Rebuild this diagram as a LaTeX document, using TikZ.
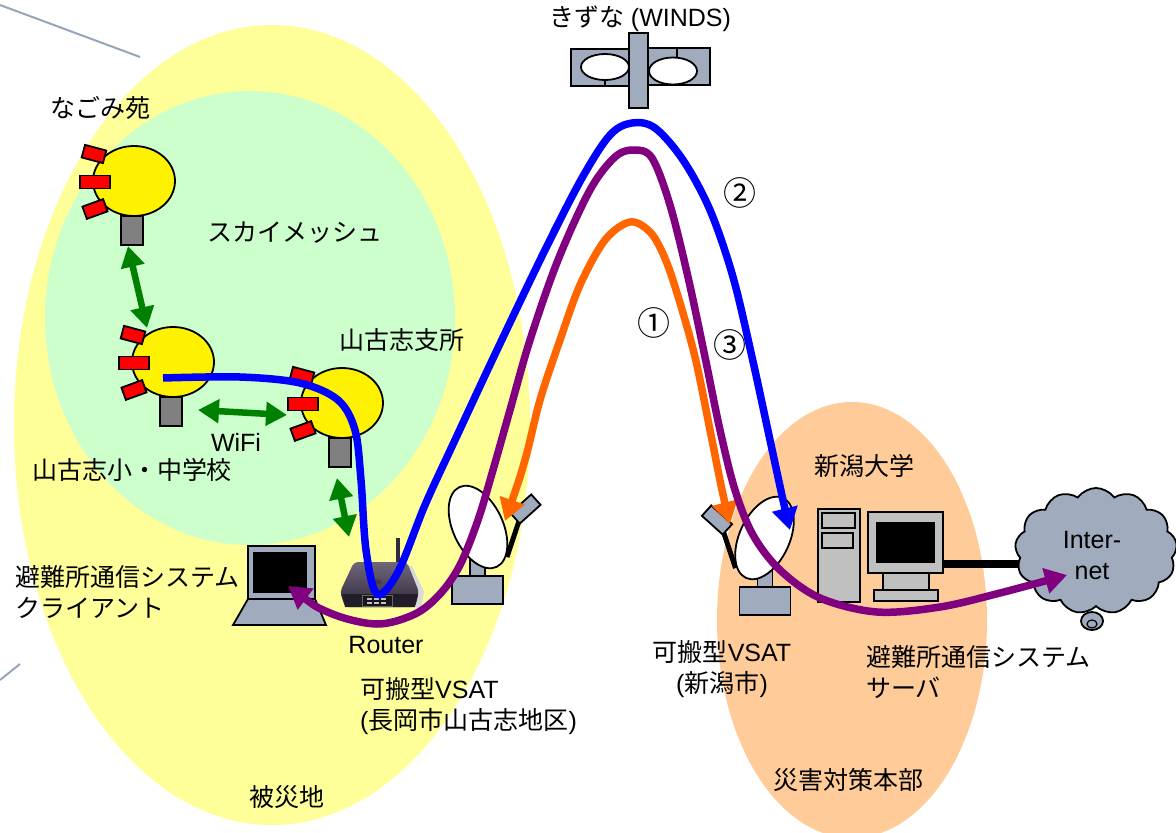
\documentclass[tikz,border=0pt]{standalone}
\usepackage{fontspec}
\setmainfont{Liberation Sans}
\newfontfamily\jp{Noto Sans CJK JP}
\usetikzlibrary{arrows.meta,shapes.symbols}

\definecolor{areaY}{RGB}{255,255,153}
\definecolor{areaG}{RGB}{204,255,204}
\definecolor{areaO}{RGB}{255,204,153}
\definecolor{slate}{RGB}{160,172,190}
\definecolor{apred}{RGB}{255,0,0}
\definecolor{apgray}{RGB}{128,128,128}
\definecolor{pcgray}{RGB}{192,192,192}
\definecolor{linkorange}{RGB}{255,102,0}
\definecolor{linkpurple}{RGB}{128,0,128}
\definecolor{linkblue}{RGB}{0,0,255}
\definecolor{wifigreen}{RGB}{0,128,0}
\definecolor{deco}{RGB}{150,165,185}
\definecolor{rtop}{RGB}{112,102,122}
\definecolor{rbot}{RGB}{48,42,58}

\tikzset{
  lbl/.style={font=\fontsize{25}{31}\selectfont, inner sep=0pt, align=center},
  lbll/.style={font=\fontsize{25}{31}\selectfont, inner sep=0pt, align=left, anchor=west},
  numlbl/.style={font=\fontsize{33}{33}\selectfont\jp, inner sep=0pt},
  part/.style={draw=black, line width=1.8pt},
  link/.style={line width=7.5pt, -{Triangle[length=22pt,width=25pt]}},
  duallink/.style={line width=7.5pt, {Triangle[length=22pt,width=25pt]}-{Triangle[length=22pt,width=25pt]}},
  wlink/.style={draw=wifigreen, line width=6.5pt,
    {Triangle[length=21pt,width=23pt]}-{Triangle[length=21pt,width=23pt]}},
}

% mesh access point: yellow head, grey stem, three red antennas
\newcommand\meshap[2]{%
  \begin{scope}[shift={#2}]
    \draw[part, fill=apgray] (-13,35) rectangle (9,64);
    \draw[part, fill=yellow] (0,0) ellipse [x radius=41pt, y radius=35pt];
    \draw[part, fill=apred, shift={(-40,-27)}, rotate=-15] (-11,-6.5) rectangle (11,6.5);
    \draw[part, fill=apred, shift={(-39,1)}] (-15,-6.5) rectangle (15,6.5);
    \draw[part, fill=apred, shift={(-39,28)}, rotate=20] (-11,-6.5) rectangle (11,6.5);
  \end{scope}
  \coordinate (#1) at #2;
}

% portable VSAT terminal: base, mast, dish, feed arm and LNB
\newcommand\vsatdish[3]{%
  \begin{scope}[shift={#2}, xscale=#3]
    \draw[part, fill=slate] (-7.5,-31) rectangle (7.5,-13);
    \draw[part, fill=slate] (-25.5,-14) rectangle (25.5,14);
    \draw[black, line width=5pt] (29.5,-33) -- (42.5,-72);
    \draw[part, fill=white, shift={(0.5,-63)}, rotate=-65] (0,0) ellipse [x radius=44pt, y radius=25pt];
    \draw[part, fill=slate, shift={(48,-81)}, rotate=42] (-14,-7) rectangle (14,7);
  \end{scope}
  \coordinate (#1) at #2;
}

\begin{document}
\begin{tikzpicture}[x=1pt, y=-1pt]
\useasboundingbox (0,0) rectangle (1176,833);

% areas
\fill[areaY] (272,425) ellipse [x radius=258pt, y radius=400pt];
\fill[areaG] (250,318) ellipse [x radius=205pt, y radius=227pt];
\fill[areaO] (852,620) ellipse [x radius=135pt, y radius=218pt];

% slide decoration
\draw[deco, line width=2pt] (0,5) -- (140,57);
\draw[deco, line width=2pt] (0,680) -- (20,664);

% satellite
\coordinate (sat) at (638,70);
\draw[part, fill=slate] (571,49) rectangle (633,86);
\draw[part, fill=slate] (648,48) rectangle (710,85);
\draw[part, fill=white] (605,67) ellipse [x radius=24pt, y radius=13pt];
\draw[part, fill=white] (673,71) ellipse [x radius=24pt, y radius=13.5pt];
\draw[black, line width=1.5pt] (605,80) -- (605,86);
\draw[black, line width=1.5pt] (677,48) -- (677,57);
\draw[part, fill=slate] (629,33) rectangle (648,108);

% mesh access points
\meshap{apA}{(134,181)}
\meshap{apB}{(173,362)}
\meshap{apC}{(342,403)}

% client laptop
\coordinate (laptop) at (280,585);
\draw[part, fill=slate] (248,546) rectangle (315,599);
\fill[black] (253,552) rectangle (307,593);
\draw[part, fill=slate] (248,599) -- (315,599) -- (326,625) -- (233,625) -- cycle;

% router
\coordinate (router) at (380,585);
\fill[rbot] (396,538) rectangle (400,572);
\fill[black!15] (408,566) -- (412,566) -- (424,592) -- (421,608) -- (416,608) -- cycle;
\shade[top color=rtop, bottom color=rbot, rounded corners=4pt]
  (354,562) -- (407,562) -- (419,592) -- (415,607) -- (345,607) -- (340,592) -- cycle;
\fill[rbot!70!black] (342,594) -- (418,594) -- (415,607) -- (345,607) -- cycle;
\fill[rtop!60!black] (377,582) ellipse [x radius=5pt, y radius=2.5pt];
\draw[black!60, fill=rbot!50!black, line width=0.8pt] (362,595) rectangle (392,606);
\foreach \sx in {367,374,381} {
  \fill[white!70!rbot] (\sx,597.5) rectangle ++(5,2);
  \fill[white!70!rbot] (\sx,601.5) rectangle ++(5,2);
}

% portable VSAT terminals
\vsatdish{dishL}{(477.5,590)}{1}
\vsatdish{dishR}{(765,601)}{-1}

% server: tower and monitor
\coordinate (server) at (880,560);
\draw[black, line width=8pt] (943,564) -- (1030,564);
\draw[part, fill=pcgray] (818,509) rectangle (860,602);
\draw[part, fill=pcgray] (822,513) rectangle (855,528);
\draw[part, fill=pcgray] (822,533) rectangle (853,548);
\draw[part, fill=pcgray] (883,573) rectangle (929,590);
\draw[part, fill=pcgray] (874,590) rectangle (938,601);
\draw[part, fill=pcgray] (868,512) rectangle (943,573);
\fill[black] (876,522) rectangle (935,563);

% internet cloud
\draw[part, fill=slate] (1092,621) ellipse [x radius=11pt, y radius=9pt];
\draw[black, line width=1.2pt] (1092,624) ellipse [x radius=5pt, y radius=4pt];
\node[cloud, cloud puffs=13, cloud puff arc=110, aspect=1.3, part, fill=slate,
      minimum width=162pt, minimum height=126pt, inner sep=0pt] (inet) at (1096,551) {};
\node[lbl] (inettext) at (1092,556) {Inter-\\net};

% wifi links
\draw[wlink] (128,246) -- (147,328);
\draw[wlink] (198,410) -- (287,415);
\draw[wlink] (337,478) -- (349,537);

% satellite links
\coordinate (blueStart) at (163,378);
\coordinate (blueEnd) at (790,530);
\draw[link, draw=linkblue, line cap=butt] plot[smooth, tension=0.55] coordinates {
  (blueStart) (240,377) (300,383) (338,400) (355,430) (361,480) (366,550)
  (377,594) (398,572) (425,505) (455,440) (497,350) (545,250) (582,178)
  (610,135) (632,123) (655,128) (683,160) (710,210) (733,277) (752,357)
  (770,440) (783,500) (blueEnd)};

\coordinate (orangeL) at (505,521);
\coordinate (orangeR) at (730,524);
\draw[duallink, draw=linkorange] plot[smooth, tension=0.55] coordinates {
  (orangeL) (525,460) (540,400) (560,340) (580,285) (605,240) (630,222)
  (650,232) (664,256) (677,293) (695,357) (710,430) (722,490) (orangeR)};

\coordinate (purpleL) at (288,586);
\coordinate (purpleR) at (1067,575);
\draw[duallink, draw=linkpurple] plot[smooth, tension=0.55] coordinates {
  (purpleL) (330,613) (377,624) (415,614) (440,594) (460,565) (478,520)
  (493,470) (510,410) (530,340) (558,260) (590,190) (615,157) (634,150)
  (652,158) (670,205) (688,277) (705,357) (720,430) (735,490) (753,535)
  (780,570) (820,598) (877,612) (940,607) (1000,593) (purpleR)};

% labels
\node[lbl] (tSat) at (640,19) {{\jp きずな} (WINDS)};
\node[lbl] (tNagomi) at (100,108) {\jp なごみ苑};
\node[lbl] (tMesh) at (295,233) {\jp スカイメッシュ};
\node[lbl] (tBranch) at (402,340) {\jp 山古志支所};
\node[lbl] (tWifi) at (236,442) {WiFi};
\node[lbl] (tSchool) at (132,470) {\jp 山古志小・中学校};
\node[lbll] (tClient) at (15,592) {{\jp 避難所通信システム}\\{\jp クライアント}};
\node[lbl] (tRouter) at (386,645) {Router};
\node[lbll] (tVsatL) at (360,706) {{\jp 可搬型}VSAT\\({\jp 長岡市山古志地区})};
\node[lbl] (tArea) at (287,797) {\jp 被災地};
\node[numlbl] (tOne) at (654,323) {①};
\node[numlbl] (tTwo) at (740,193) {②};
\node[numlbl] (tThree) at (730,345) {③};
\node[lbl] (tUniv) at (864,466) {\jp 新潟大学};
\node[lbl] (tVsatR) at (722,669) {{\jp 可搬型}VSAT\\({\jp 新潟市})};
\node[lbll] (tServer) at (866,672) {{\jp 避難所通信システム}\\{\jp サーバ}};
\node[lbl] (tHQ) at (848,780) {\jp 災害対策本部};
\end{tikzpicture}
\end{document}
